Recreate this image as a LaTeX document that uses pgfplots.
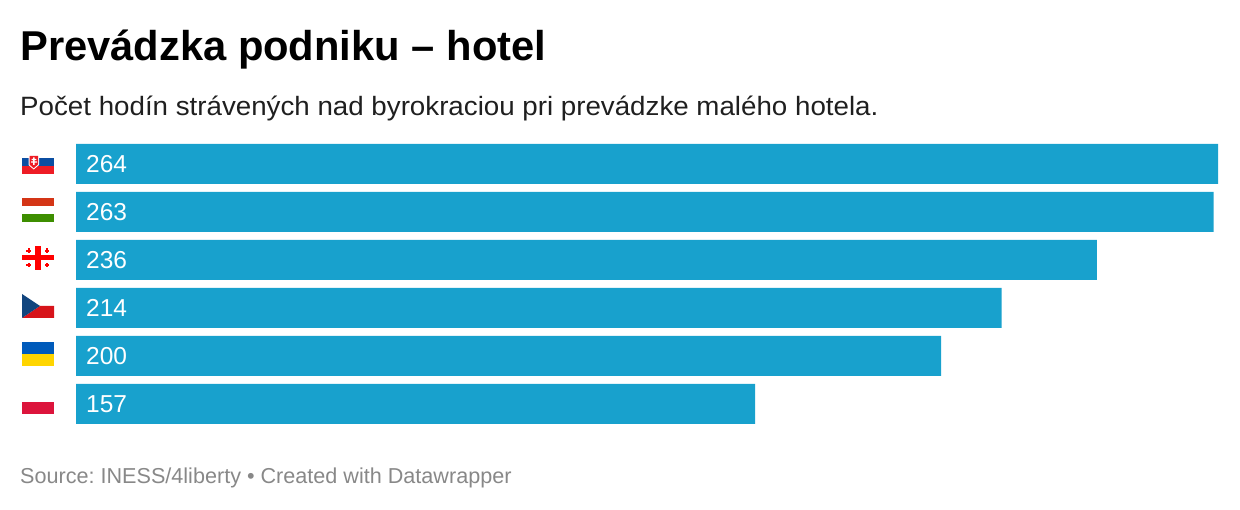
\documentclass[border=0pt]{standalone}
\usepackage{fontspec}
\setmainfont{Liberation Sans}
\usepackage{pgfplots}
\pgfplotsset{compat=1.18}
\frenchspacing

\definecolor{barblue}{HTML}{18A1CD}
\definecolor{srcgrey}{HTML}{888888}
\definecolor{skblue}{HTML}{0B4EA2}
\definecolor{skred}{HTML}{EE1C25}
\definecolor{hured}{HTML}{D43516}
\definecolor{hugreen}{HTML}{3D8E00}
\definecolor{gered}{HTML}{FF0000}
\definecolor{czblue}{HTML}{11457E}
\definecolor{czred}{HTML}{D7141A}
\definecolor{uablue}{HTML}{005BBB}
\definecolor{uayellow}{HTML}{FFD500}
\definecolor{plred}{HTML}{DC143C}

\begin{document}
\begin{tikzpicture}[x=1pt,y=1pt]
\useasboundingbox (0,0) rectangle (1240,510);
\begin{axis}[
    at={(76pt,82pt)},
    anchor=south west,
    scale only axis,
    width=1142pt,
    height=288pt,
    xmin=0, xmax=264,
    ymin=-0.5, ymax=5.5,
    y dir=reverse,
    axis line style={draw=none},
    major tick length=0pt,
    xtick=\empty,
    ytick=\empty,
    clip=false,
]
\addplot[xbar, bar width=40pt, fill=barblue, draw=none] coordinates {
    (264,0) (263,1) (236,2) (214,3) (200,4) (157,5)
};
\addplot[only marks, mark=none, point meta=explicit symbolic,
    nodes near coords,
    nodes near coords style={anchor=west, text=white, inner sep=0pt, xshift=10pt,
        font=\fontsize{24.5}{26}\selectfont}]
    coordinates {
    (0,0) [264] (0,1) [263] (0,2) [236] (0,3) [214] (0,4) [200] (0,5) [157]
};
\end{axis}

\begin{scope}[yshift=510pt,y=-1pt]
\node[anchor=base west,inner sep=0pt,font=\fontsize{41.7}{46}\bfseries\selectfont] at (20,61) {Prevádzka podniku – hotel};
\node[anchor=base west,inner sep=0pt,xscale=1.046,font=\fontsize{26.5}{30}\selectfont,text=black!88] at (20,115.5) {Počet hodín strávených nad byrokraciou pri prevádzke malého hotela.};
\node[anchor=base west,inner sep=0pt,font=\fontsize{21.6}{26}\selectfont,text=srcgrey] at (20,484) {Source: INESS/4liberty • Created with Datawrapper};

% Slovakia
\fill[skblue] (22,158) rectangle (54,166);
\fill[skred] (22,166) rectangle (54,174);
\fill[white] (28.5,155) -- (39,155) -- (39,165) -- (33.7,169.5) -- (28.5,165) -- cycle;
\fill[skred] (29.5,156) -- (38,156) -- (38,164.5) -- (33.7,168.2) -- (29.5,164.5) -- cycle;
\fill[white] (33,157.5) rectangle (34.6,165) (31.5,159) rectangle (36.3,160.2) (31,161.5) rectangle (37,162.7);
% Hungary
\fill[hured] (22,198) rectangle (54,206);
\fill[hugreen] (22,214) rectangle (54,222);
% Georgia
\fill[gered] (35.3,246) rectangle (40.7,270);
\fill[gered] (22,255.4) rectangle (54,260);
\foreach \cx/\cy in {28.7/250.7,47/250.7,28.7/265,47/265} {
    \fill[gered] (\cx-1,\cy-2.4) rectangle (\cx+1,\cy+2.4);
    \fill[gered] (\cx-2.4,\cy-1) rectangle (\cx+2.4,\cy+1);
}
% Czechia
\fill[czred] (22,306) -- (40,306) -- (22,318) -- (54,318) -- (54,306) -- cycle;
\fill[czblue] (22,294) -- (40,306) -- (22,318) -- cycle;
% Ukraine
\fill[uablue] (22,342) rectangle (54,354);
\fill[uayellow] (22,354) rectangle (54,366);
% Poland
\fill[plred] (22,402) rectangle (54,414);
\end{scope}
\end{tikzpicture}
\end{document}
